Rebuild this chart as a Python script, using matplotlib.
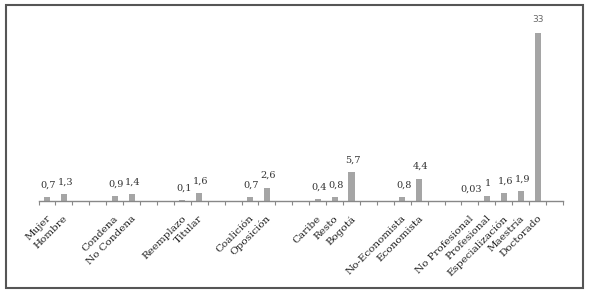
import numpy as np
import matplotlib.pyplot as plt
import matplotlib.patches as mpatches

plt.rcParams['font.family'] = ['DejaVu Serif']

# categorias (cadena vacia = hueco entre grupos)
categorias = ['Mujer', 'Hombre', '', '',
              'Condena', 'No Condena', '', '',
              'Reemplazo', 'Titular', '', '',
              'Coalición', 'Oposición', '', '',
              'Caribe', 'Resto', 'Bogotá', '', '',
              'No-Economista', 'Economista', '', '',
              'No Profesional', 'Profesional', 'Especialización', 'Maestría', 'Doctorado', '']
valores = [0.7, 1.3, None, None,
           0.9, 1.4, None, None,
           0.1, 1.6, None, None,
           0.7, 2.6, None, None,
           0.4, 0.8, 5.7, None, None,
           0.8, 4.4, None, None,
           0.03, 1.0, 1.6, 1.9, 33.0, None]
etiquetas = ['0,7', '1,3', '', '',
             '0,9', '1,4', '', '',
             '0,1', '1,6', '', '',
             '0,7', '2,6', '', '',
             '0,4', '0,8', '5,7', '', '',
             '0,8', '4,4', '', '',
             '0,03', '1', '1,6', '1,9', '33', '']

W, H = 589, 295
fig = plt.figure(figsize=(W / 100, H / 100), dpi=100)
ax = fig.add_axes([38.5 / W, 1 - 201 / H, (563 - 38.5) / W, (201 - 10) / H])

x = np.arange(len(categorias))
y = [v if v is not None else 0 for v in valores]
ax.bar(x, y, width=0.36, color='#a5a5a5', zorder=2)

for xi, v, t in zip(x, valores, etiquetas):
    if v is None:
        continue
    if t == '33':
        ax.annotate(t, (xi, v), xytext=(0, 6.5), textcoords='offset points',
                    ha='center', va='bottom', fontsize=6.5, color='#666666',
                    family='DejaVu Sans')
    else:
        ax.annotate(t, (xi, v), xytext=(1, 5.5), textcoords='offset points',
                    ha='center', va='bottom', fontsize=7, color='#333333')

ax.set_xlim(-0.5, len(categorias) - 0.5)
ax.set_ylim(0, 37.5)

# ticks en los limites de cada categoria
ax.set_xticks(np.arange(len(categorias) + 1) - 0.5, minor=False)
ax.set_xticklabels([])
ax.tick_params(axis='x', direction='out', length=3, color='#888888', width=0.8)
for xi, c in zip(x, categorias):
    if c:
        ax.text(xi - 0.05, -2.5, c, rotation=45, ha='right', va='top',
                rotation_mode='anchor', fontsize=7.5, color='#222222')

ax.set_yticks([])
for s in ['left', 'right', 'top']:
    ax.spines[s].set_visible(False)
ax.spines['bottom'].set_color('#888888')
ax.spines['bottom'].set_linewidth(1.0)

# marco exterior
borde = mpatches.Rectangle((6 / W, 1 - 288 / H), (583 - 6) / W, (288 - 5) / H,
                           transform=fig.transFigure, fill=False,
                           edgecolor='#555555', linewidth=1.5)
fig.patches.append(borde)

fig.savefig('out.png', dpi=100)
